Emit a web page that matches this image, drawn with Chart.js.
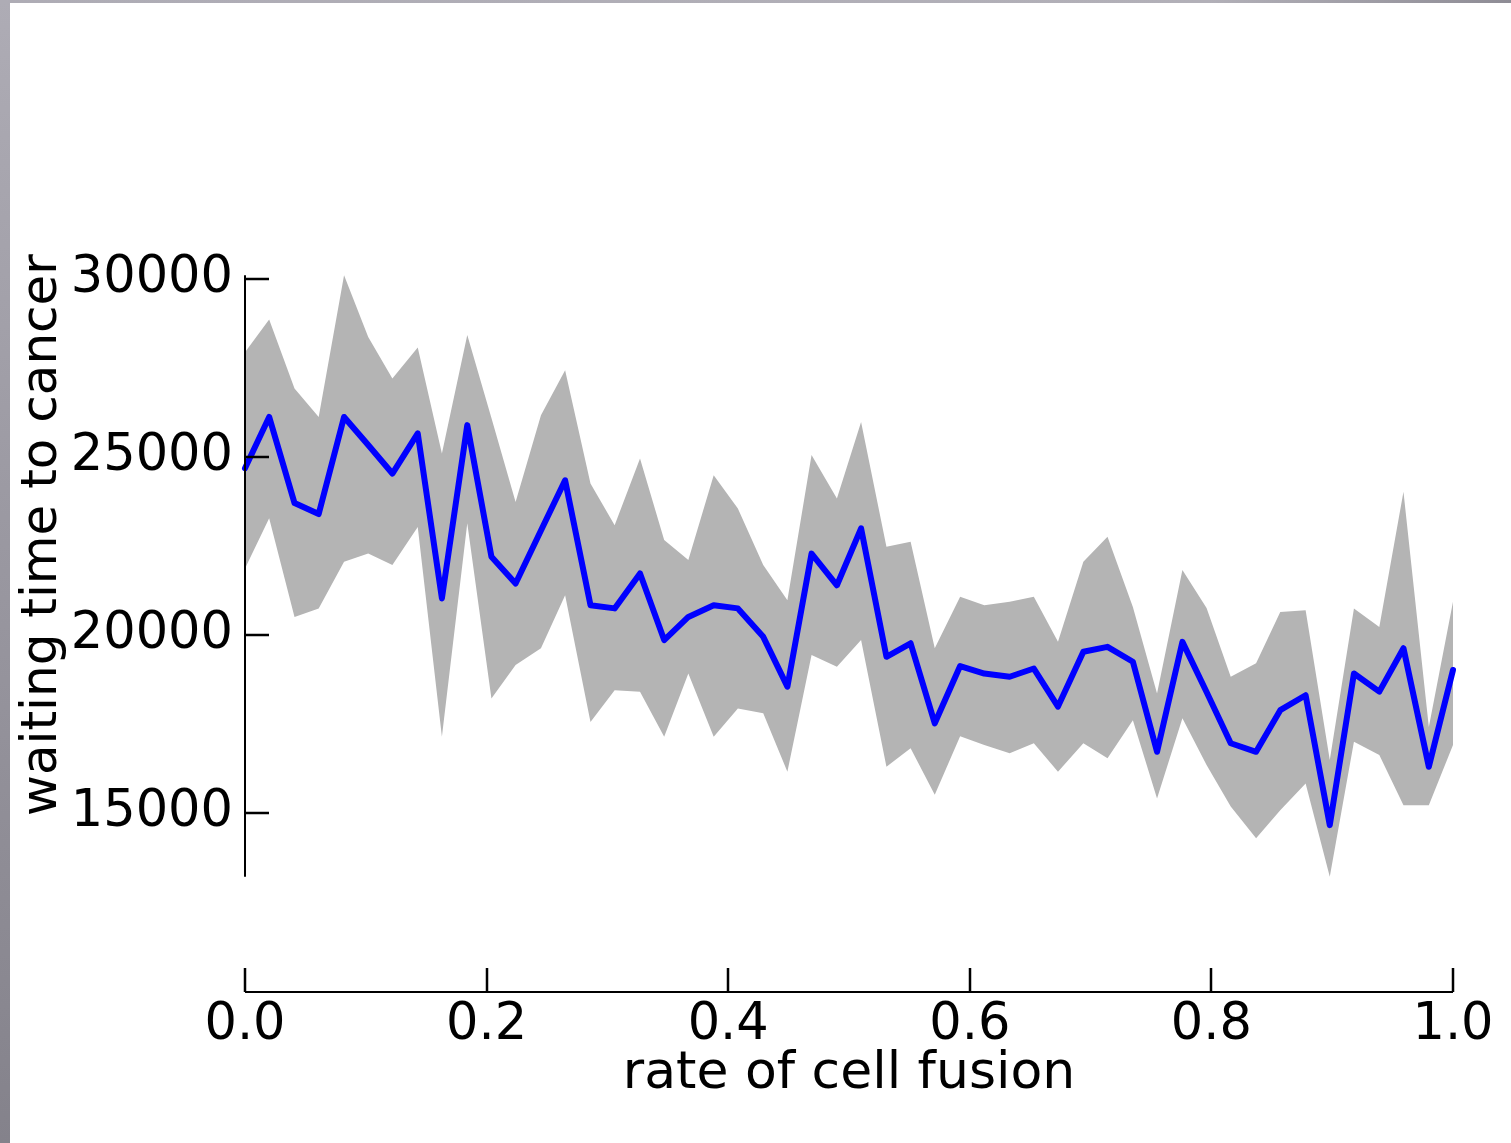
<!DOCTYPE html>
<html lang="en">
<head>
    <meta charset="UTF-8">
    <title>waiting time to cancer</title>
    <style>
        html, body {
            margin: 0;
            padding: 0;
            background: #ffffff;
            overflow: hidden;
        }
        #chartBox {
            position: absolute;
            left: 0;
            top: 0;
            width: 1511px;
            height: 1143px;
        }
    </style>
    <script src="https://cdn.jsdelivr.net/npm/chart.js"></script>
</head>
<body>
    <div id="chartBox">
        <canvas id="fusionChart" width="1511" height="1143"></canvas>
    </div>

    <script>
        // rate of cell fusion (50 runs, 0..1)
        const fusionRates = [
            0.000, 0.020, 0.041, 0.061, 0.082, 0.102, 0.122, 0.143, 0.163, 0.184,
            0.204, 0.224, 0.245, 0.265, 0.286, 0.306, 0.327, 0.347, 0.367, 0.388,
            0.408, 0.429, 0.449, 0.469, 0.490, 0.510, 0.531, 0.551, 0.571, 0.592,
            0.612, 0.633, 0.653, 0.673, 0.694, 0.714, 0.735, 0.755, 0.776, 0.796,
            0.816, 0.837, 0.857, 0.878, 0.898, 0.918, 0.939, 0.959, 0.980, 1.000
        ];

        // mean waiting time to cancer
        const meanWait = [
            24690, 26130, 23710, 23400, 26130, 25340, 24540, 25670, 21030, 25900,
            22200, 21450, 22940, 24350, 20840, 20750, 21730, 19860, 20510, 20840,
            20750, 19950, 18550, 22290, 21400, 23000, 19390, 19770, 17520, 19130,
            18920, 18830, 19060, 17990, 19530, 19670, 19250, 16720, 19810, 18400,
            16960, 16720, 17890, 18310, 14660, 18920, 18410, 19630, 16300, 19020
        ];

        // upper / lower edge of the grey band
        const upperWait = [
            27950, 28870, 26930, 26130, 30110, 28380, 27210, 28080, 25100, 28430,
            26100, 23740, 26180, 27440, 24260, 23090, 24960, 22670, 22110, 24490,
            23560, 21970, 20980, 25060, 23840, 25990, 22480, 22620, 19630, 21080,
            20840, 20940, 21080, 19810, 22060, 22760, 20790, 18360, 21830, 20760,
            18830, 19210, 20650, 20700, 16490, 20750, 20230, 24030, 17420, 20940
        ];
        const lowerWait = [
            21870, 23280, 20510, 20750, 22060, 22290, 21970, 23040, 17140, 23140,
            18220, 19160, 19630, 21120, 17560, 18450, 18410, 17140, 18920, 17140,
            17940, 17800, 16160, 19440, 19110, 19860, 16300, 16820, 15510, 17160,
            16910, 16680, 16960, 16160, 16960, 16540, 17610, 15410, 17660, 16350,
            15180, 14290, 15080, 15830, 13210, 17000, 16630, 15220, 15220, 16910
        ];

        const yTickValues = [15000, 20000, 25000, 30000];
        const xTickValues = [0.0, 0.2, 0.4, 0.6, 0.8, 1.0];

        const FONT = 'DejaVu Sans';
        const toPoints = (vals) => vals.map((v, i) => ({ x: fusionRates[i], y: v }));

        // page frame + matplotlib-like spines with inward ticks
        const axesPlugin = {
            id: 'axesPlugin',
            beforeDraw(chart) {
                const ctx = chart.ctx;
                ctx.save();
                ctx.fillStyle = '#ffffff';
                ctx.fillRect(0, 0, chart.width, chart.height);
                let g = ctx.createLinearGradient(0, 0, 0, chart.height);
                g.addColorStop(0, '#aeacb5');
                g.addColorStop(1, '#84828b');
                ctx.fillStyle = g;
                ctx.fillRect(0, 0, 10, chart.height);
                g = ctx.createLinearGradient(0, 0, chart.width, 0);
                g.addColorStop(0, '#aeacb5');
                g.addColorStop(0.8, '#b2b0b8');
                g.addColorStop(1, '#8e8c95');
                ctx.fillStyle = g;
                ctx.fillRect(0, 0, chart.width, 3);
                ctx.restore();
            },
            afterDatasetsDraw(chart) {
                const ctx = chart.ctx;
                const xs = chart.scales.x;
                const ys = chart.scales.y;
                const left = xs.getPixelForValue(0);
                const right = xs.getPixelForValue(1);
                const bottom = chart.chartArea.bottom;
                const yTop = ys.getPixelForValue(Math.max(...upperWait));
                const yBot = ys.getPixelForValue(Math.min(...lowerWait));
                const tickLen = 24;

                ctx.save();
                ctx.strokeStyle = '#000000';
                ctx.lineCap = 'butt';

                // left spine (only over data range)
                ctx.lineWidth = 2;
                ctx.beginPath();
                ctx.moveTo(left, yTop);
                ctx.lineTo(left, yBot);
                ctx.stroke();
                ctx.lineWidth = 2.5;
                ctx.beginPath();
                yTickValues.forEach(v => {
                    const py = Math.round(ys.getPixelForValue(v));
                    ctx.moveTo(left, py);
                    ctx.lineTo(left + tickLen, py);
                });
                ctx.stroke();

                // bottom spine, pushed down
                ctx.lineWidth = 2;
                ctx.beginPath();
                ctx.moveTo(left, bottom);
                ctx.lineTo(right, bottom);
                ctx.stroke();
                ctx.lineWidth = 2.5;
                ctx.beginPath();
                xTickValues.forEach(v => {
                    const px = Math.round(xs.getPixelForValue(v));
                    ctx.moveTo(px, bottom);
                    ctx.lineTo(px, bottom - tickLen);
                });
                ctx.stroke();

                // y-axis label
                ctx.translate(56, 535);
                ctx.rotate(-Math.PI / 2);
                ctx.fillStyle = '#000000';
                ctx.font = '50px "' + FONT + '"';
                ctx.textAlign = 'center';
                ctx.textBaseline = 'alphabetic';
                ctx.fillText('waiting time to cancer', 0, 0);
                ctx.restore();
            }
        };

        const ctx = document.getElementById('fusionChart').getContext('2d');
        const chart = new Chart(ctx, {
            type: 'line',
            data: {
                datasets: [
                    {
                        label: 'upper',
                        data: toPoints(upperWait),
                        borderWidth: 0,
                        pointRadius: 0,
                        backgroundColor: 'rgb(180, 180, 180)',
                        fill: '+1',
                        tension: 0,
                        order: 2
                    },
                    {
                        label: 'lower',
                        data: toPoints(lowerWait),
                        borderWidth: 0,
                        pointRadius: 0,
                        backgroundColor: 'rgb(180, 180, 180)',
                        fill: false,
                        tension: 0,
                        order: 2
                    },
                    {
                        label: 'mean',
                        data: toPoints(meanWait),
                        borderColor: '#0000ff',
                        borderWidth: 6,
                        pointRadius: 0,
                        fill: false,
                        tension: 0,
                        borderJoinStyle: 'round',
                        borderCapStyle: 'round',
                        order: 0
                    }
                ]
            },
            options: {
                responsive: false,
                animation: false,
                devicePixelRatio: 1,
                clip: false,
                layout: {
                    padding: { top: 265, right: 58, bottom: 0, left: 0 }
                },
                plugins: {
                    legend: { display: false },
                    tooltip: { enabled: false }
                },
                scales: {
                    x: {
                        type: 'linear',
                        min: 0,
                        max: 1,
                        grid: { display: false },
                        border: { display: false },
                        afterBuildTicks: (scale) => {
                            scale.ticks = xTickValues.map(v => ({ value: v }));
                        },
                        afterFit: (scale) => { scale.height = 151; },
                        ticks: {
                            color: '#000000',
                            padding: -5,
                            maxRotation: 0,
                            font: { family: FONT, size: 51 },
                            callback: (v) => Number(v).toFixed(1)
                        },
                        title: {
                            display: true,
                            text: 'rate of cell fusion',
                            color: '#000000',
                            font: { family: FONT, size: 52 },
                            padding: { top: 0, bottom: 37 }
                        }
                    },
                    y: {
                        type: 'linear',
                        min: 9970,
                        max: 30400,
                        grid: { display: false },
                        border: { display: false },
                        afterBuildTicks: (scale) => {
                            scale.ticks = yTickValues.map(v => ({ value: v }));
                        },
                        afterFit: (scale) => { scale.width = 245; },
                        ticks: {
                            color: '#000000',
                            padding: 4,
                            font: { family: FONT, size: 51 },
                            callback: (v) => String(v)
                        }
                    }
                }
            },
            plugins: [axesPlugin]
        });
    </script>
</body>
</html>
